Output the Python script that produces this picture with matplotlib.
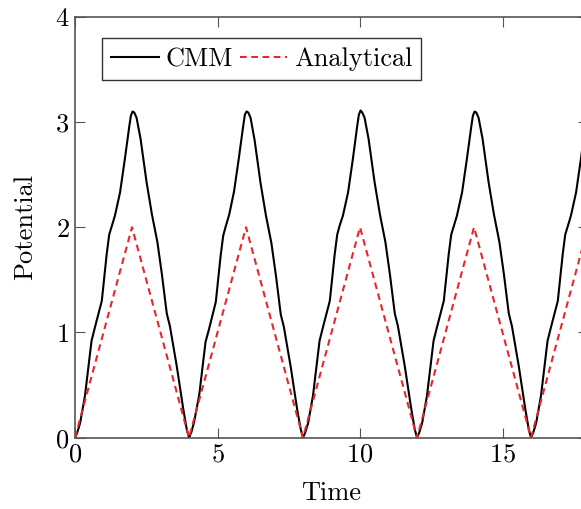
import matplotlib
matplotlib.use("Agg")
import matplotlib.pyplot as plt

# analytical triangle wave, corner points
ana_t = [0, 2, 4, 6, 8, 10, 12, 14, 16, 18]
ana_v = [0, 2, 0, 2, 0, 2, 0, 2, 0, 2]

# CMM curve, one row per period
cmm_t = [
    0.00, 0.08, 0.18, 0.35, 0.58, 0.70, 0.94, 1.11, 1.20, 1.29, 1.40, 1.58, 1.75, 1.90, 1.96, 2.02, 2.08, 2.16, 2.30, 2.51, 2.70, 2.89, 3.05, 3.22, 3.33, 3.57, 3.80, 3.92,
    4.00, 4.08, 4.18, 4.36, 4.58, 4.71, 4.94, 5.11, 5.20, 5.29, 5.41, 5.58, 5.75, 5.90, 5.96, 6.02, 6.08, 6.16, 6.30, 6.51, 6.70, 6.89, 7.05, 7.22, 7.33, 7.57, 7.80, 7.92,
    8.00, 8.08, 8.18, 8.35, 8.58, 8.70, 8.94, 9.11, 9.20, 9.29, 9.40, 9.58, 9.75, 9.90, 9.96, 10.02, 10.08, 10.16, 10.30, 10.51, 10.70, 10.89, 11.05, 11.22, 11.33, 11.57, 11.80, 11.92,
    12.00, 12.08, 12.18, 12.35, 12.58, 12.70, 12.94, 13.11, 13.20, 13.29, 13.40, 13.58, 13.75, 13.90, 13.96, 14.02, 14.08, 14.16, 14.30, 14.51, 14.70, 14.89, 15.05, 15.22, 15.33, 15.57, 15.80, 15.92,
    16.00, 16.08, 16.18, 16.35, 16.58, 16.70, 16.94, 17.11, 17.20, 17.29, 17.40, 17.58, 17.75, 17.90, 18.00,
]
cmm_v = [
    0.00, 0.05, 0.14, 0.40, 0.92, 1.05, 1.30, 1.74, 1.93, 2.01, 2.11, 2.33, 2.65, 2.95, 3.06, 3.10, 3.09, 3.04, 2.84, 2.43, 2.12, 1.86, 1.55, 1.18, 1.06, 0.68, 0.27, 0.08,
    0.00, 0.05, 0.15, 0.41, 0.91, 1.04, 1.29, 1.73, 1.92, 2.01, 2.12, 2.34, 2.66, 2.96, 3.07, 3.10, 3.09, 3.04, 2.83, 2.42, 2.11, 1.85, 1.54, 1.17, 1.05, 0.67, 0.26, 0.08,
    0.00, 0.05, 0.14, 0.40, 0.92, 1.05, 1.30, 1.74, 1.93, 2.02, 2.11, 2.33, 2.65, 2.96, 3.07, 3.11, 3.09, 3.04, 2.84, 2.43, 2.12, 1.86, 1.55, 1.18, 1.06, 0.68, 0.27, 0.08,
    0.00, 0.05, 0.14, 0.40, 0.92, 1.05, 1.30, 1.74, 1.93, 2.01, 2.11, 2.33, 2.65, 2.95, 3.06, 3.10, 3.09, 3.04, 2.84, 2.43, 2.12, 1.86, 1.55, 1.18, 1.06, 0.68, 0.27, 0.08,
    0.00, 0.05, 0.14, 0.40, 0.92, 1.05, 1.30, 1.74, 1.93, 2.01, 2.11, 2.33, 2.65, 2.95, 3.10,
]

x_ticks = [0, 5, 10, 15]
y_ticks = [0, 1, 2, 3, 4]

plt.rcParams["font.family"] = "cmr10"
plt.rcParams["axes.formatter.use_mathtext"] = True
plt.rcParams["font.size"] = 19

fig = plt.figure(figsize=(5.81, 5.09), dpi=100)
ax = fig.add_axes([0.1291, 0.1401, 0.8830, 0.8269])

ax.plot(cmm_t, cmm_v, color="black", lw=1.5, label="CMM")
ax.plot(ana_t, ana_v, color="#e8272a", lw=1.5, ls=(0, (3.2, 2.2)), label="Analytical")

ax.set_xlim(0, 18)
ax.set_ylim(0, 4)
ax.set_xticks(x_ticks)
ax.set_yticks(y_ticks)
ax.tick_params(direction="in", length=7, width=0.8, color="#555555",
               top=True, right=True, pad=4)
for s in ax.spines.values():
    s.set_color("#555555")
    s.set_linewidth(1.2)

ax.set_xlabel("Time", labelpad=10)
ax.set_ylabel("Potential", labelpad=13)

leg = ax.legend(loc="upper left", bbox_to_anchor=(0.053, 0.949), ncol=2,
                borderaxespad=0, fancybox=False, framealpha=1, edgecolor="#333333",
                handlelength=1.8, handletextpad=0.25, columnspacing=0.25,
                borderpad=0.35, fontsize=19)
leg.get_frame().set_linewidth(1.0)

fig.savefig("out.png", dpi=100)
